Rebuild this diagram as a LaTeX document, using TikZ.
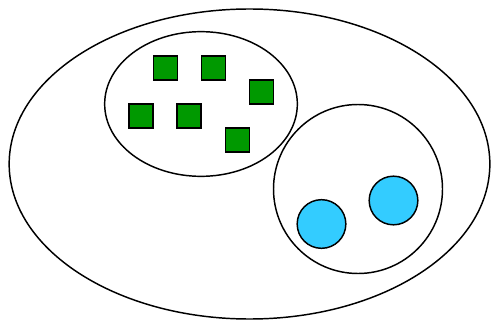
\documentclass[tikz,border=0pt]{standalone}
\usepackage{tikz}
\usetikzlibrary{shapes.geometric}
\definecolor{SetGreen}{HTML}{009900}
\definecolor{SetBlue}{HTML}{33CCFF}

\begin{document}
\begin{tikzpicture}[x=0.75pt, y=-0.75pt, line width=1.1pt,
    setshape/.style={draw, ellipse, inner sep=0pt, outer sep=0pt},
    sq/.style={draw, fill=SetGreen, minimum size=18pt, inner sep=0pt},
    dot/.style={draw, circle, fill=SetBlue, minimum size=36.5pt, inner sep=0pt}]
  \useasboundingbox (0,0) rectangle (491,320);
  % outer set
  \node[setshape, minimum width=360.5pt, minimum height=232.5pt] (universe) at (249.5,164) {};
  % subset of squares
  \node[setshape, minimum width=144.5pt, minimum height=108.5pt] (squares) at (201,104) {};
  \node[sq] (s1) at (165.5,68) {};
  \node[sq] (s2) at (213.5,68) {};
  \node[sq] (s3) at (261.5,92) {};
  \node[sq] (s4) at (141,116) {};
  \node[sq] (s5) at (189,116) {};
  \node[sq] (s6) at (237.5,140) {};
  % subset of circles
  \node[setshape, minimum width=126.75pt, minimum height=126.75pt] (circles) at (358,189) {};
  \node[dot] (c1) at (321.5,224) {};
  \node[dot] (c2) at (393.5,200.5) {};
\end{tikzpicture}
\end{document}
